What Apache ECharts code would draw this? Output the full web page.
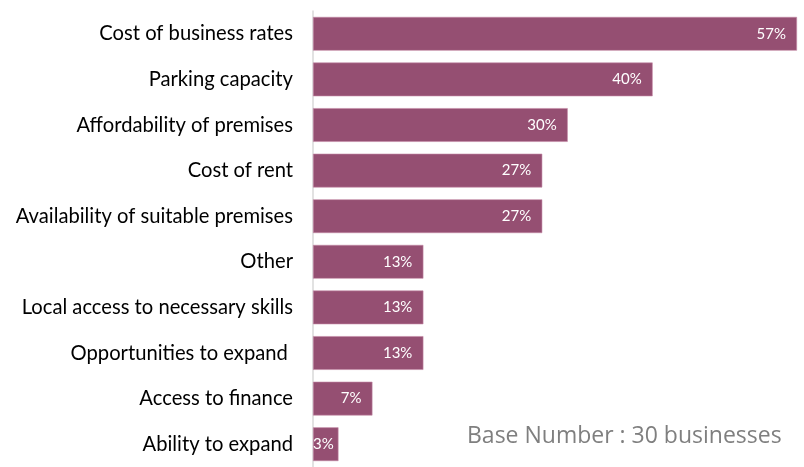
<!DOCTYPE html>
<html>
<head>
<meta charset="utf-8">
<script src="https://cdn.jsdelivr.net/npm/echarts@6/dist/echarts.min.js"></script>
<style>
  html, body { margin: 0; padding: 0; background: #fff; }
  #chart { width: 804px; height: 467px; }
</style>
</head>
<body>
<div id="chart"></div>
<script>
// Barriers reported by businesses (% of respondents), top to bottom
const categories = [
  'Cost of business rates',
  'Parking capacity',
  'Affordability of premises',
  'Cost of rent',
  'Availability of suitable premises',
  'Other',
  'Local access to necessary skills',
  'Opportunities to expand ',
  'Access to finance',
  'Ability to expand'
];
const values = [57, 40, 30, 27, 27, 13, 13, 13, 7, 3];
const baseNote = 'Base Number : 30 businesses';

const barColor = '#954f72';

const chart = echarts.init(document.getElementById('chart'), null, { renderer: 'canvas' });

const seriesData = values.map((v) => {
  const item = { value: v };
  // very short bar: keep its label against the axis
  if (v < 5) {
    item.label = { position: 'insideLeft', distance: 0 };
  }
  return item;
});

chart.setOption({
  animation: false,
  backgroundColor: '#ffffff',
  grid: { left: 313, right: 7, top: 11, height: 464, containLabel: false },
  xAxis: {
    type: 'value',
    min: 0,
    max: 57,
    show: false
  },
  yAxis: {
    type: 'category',
    data: categories,
    inverse: true,
    axisLine: { show: true, lineStyle: { color: '#d9d9d9', width: 1.5 } },
    axisTick: { show: false },
    splitLine: { show: false },
    axisLabel: {
      color: '#000000',
      fontFamily: 'Lato',
      fontSize: 20.2,
      margin: 20
    }
  },
  series: [{
    type: 'bar',
    data: seriesData,
    barCategoryGap: '26%',
    itemStyle: { color: barColor, borderColor: '#c48aa6', borderWidth: 0.6 },
    label: {
      show: true,
      position: 'insideRight',
      distance: 11,
      color: '#ffffff',
      fontFamily: 'Lato',
      fontSize: 15,
      formatter: p => p.value + '%'
    }
  }],
  graphic: [{
    type: 'text',
    x: 467,
    y: 436,
    style: {
      text: baseNote,
      fill: '#7f7f7f',
      font: '23px "Open Sans"',
      verticalAlign: 'middle'
    }
  }]
});
</script>
</body>
</html>
